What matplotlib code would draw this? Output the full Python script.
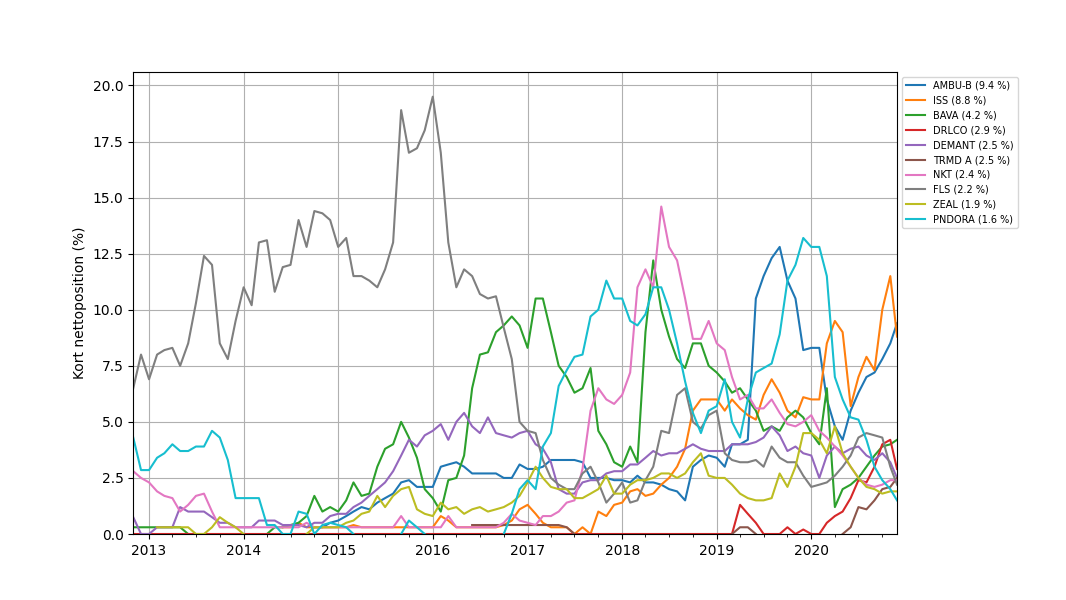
import numpy as np
import pandas as pd
import matplotlib
matplotlib.use("Agg")
import matplotlib.pyplot as plt
import matplotlib.dates as mdates

nan = float("nan")

# monthly readings, Nov 2012 .. Nov 2020, plus the last day
dates = pd.date_range("2012-11-01", periods=97, freq="MS").append(
    pd.DatetimeIndex(["2020-11-27"])
)

labels = ["AMBU-B (9.4 %)", "ISS (8.8 %)", "BAVA (4.2 %)", "DRLCO (2.9 %)",
          "DEMANT (2.5 %)", "TRMD A (2.5 %)", "NKT (2.4 %)", "FLS (2.2 %)",
          "ZEAL (1.9 %)", "PNDORA (1.6 %)"]

ambu_b = [nan, nan,
          nan, nan, nan, nan, nan, nan, nan, nan, nan, nan, nan, nan,
          nan, nan, nan, nan, nan, nan, nan, nan, nan, 0.3, 0.3, 0.5,
          0.6, 0.8, 1.0, 1.2, 1.1, 1.4, 1.6, 1.8, 2.3, 2.4, 2.1, 2.1,
          2.1, 3.0, 3.1, 3.2, 3.0, 2.7, 2.7, 2.7, 2.7, 2.5, 2.5, 3.1,
          2.9, 2.9, 3.0, 3.3, 3.3, 3.3, 3.3, 3.2, 2.5, 2.5, 2.5, 2.4,
          2.4, 2.3, 2.6, 2.3, 2.3, 2.2, 2.0, 1.9, 1.5, 3.0, 3.3, 3.5,
          3.4, 3.0, 4.0, 4.0, 4.2, 10.5, 11.5, 12.3, 12.8, 11.3, 10.5, 8.2,
          8.3, 8.3, 6.0, 4.8, 4.2, 5.5, 6.3, 7.0, 7.2, 7.8, 8.5,
          9.4]

iss = [nan, nan,
       nan, nan, nan, nan, nan, nan, nan, nan, nan, nan, nan, nan,
       nan, nan, nan, nan, nan, 0.3, 0.3, 0.5, 0.3, 0.3, 0.3, 0.3,
       0.3, 0.3, 0.4, 0.3, 0.3, 0.3, 0.3, 0.3, 0.3, 0.3, 0.3, 0.3,
       0.3, 0.8, 0.6, 0.3, 0.3, 0.3, 0.3, 0.3, 0.3, 0.4, 0.6, 1.1,
       1.3, 0.9, 0.5, 0.3, 0.3, 0.3, 0.0, 0.3, 0.0, 1.0, 0.8, 1.3,
       1.4, 1.9, 2.0, 1.7, 1.8, 2.2, 2.5, 3.0, 3.8, 5.5, 6.0, 6.0,
       6.0, 5.5, 6.0, 5.6, 5.3, 5.1, 6.2, 6.9, 6.3, 5.5, 5.2, 6.1,
       6.0, 6.0, 8.5, 9.5, 9.0, 5.7, 7.0, 7.9, 7.3, 10.0, 11.5,
       8.8]

bava = [0.3, 0.3,
        0.3, 0.3, 0.3, 0.3, 0.3, 0.0, nan, nan, nan, nan, nan, nan,
        nan, nan, nan, 0.0, 0.3, 0.3, 0.4, 0.5, 0.8, 1.7, 1.0, 1.2,
        1.0, 1.5, 2.3, 1.7, 1.8, 3.0, 3.8, 4.0, 5.0, 4.3, 3.4, 2.0,
        1.6, 1.0, 2.4, 2.5, 3.5, 6.5, 8.0, 8.1, 9.0, 9.3, 9.7, 9.3,
        8.3, 10.5, 10.5, 9.0, 7.5, 7.0, 6.3, 6.5, 7.4, 4.6, 4.0, 3.2,
        3.0, 3.9, 3.2, 9.0, 12.2, 10.0, 8.8, 7.8, 7.4, 8.5, 8.5, 7.5,
        7.2, 6.8, 6.3, 6.5, 6.0, 5.5, 4.6, 4.8, 4.6, 5.2, 5.5, 5.2,
        4.5, 4.0, 6.5, 1.2, 2.0, 2.2, 2.5, 3.0, 3.5, 3.9, 4.0,
        4.2]

drlco = [0.0, 0.0,
         0.0, 0.0, 0.0, 0.0, 0.0, 0.0, 0.0, 0.0, 0.0, 0.0, 0.0, 0.0,
         0.0, 0.0, 0.0, 0.0, 0.0, 0.0, 0.0, 0.0, 0.0, 0.0, 0.0, 0.0,
         0.0, 0.0, 0.0, 0.0, 0.0, 0.0, 0.0, 0.0, 0.0, 0.0, 0.0, 0.0,
         0.0, 0.0, 0.0, 0.0, 0.0, 0.0, 0.0, 0.0, 0.0, 0.0, 0.0, 0.0,
         0.0, 0.0, 0.0, 0.0, 0.0, 0.0, 0.0, 0.0, 0.0, 0.0, 0.0, 0.0,
         0.0, 0.0, 0.0, 0.0, 0.0, 0.0, 0.0, 0.0, 0.0, 0.0, 0.0, 0.0,
         0.0, 0.0, 0.0, 1.3, 0.9, 0.5, 0.0, 0.0, 0.0, 0.3, 0.0, 0.2,
         0.0, 0.0, 0.5, 0.8, 1.0, 1.6, 2.4, 2.3, 3.0, 4.0, 4.2,
         2.9]

demant = [0.75, 0.0,
          0.0, 0.3, 0.3, 0.3, 1.2, 1.0, 1.0, 1.0, 0.75, 0.5, 0.5, 0.3,
          0.3, 0.3, 0.6, 0.6, 0.6, 0.4, 0.4, 0.4, 0.3, 0.5, 0.5, 0.8,
          0.9, 0.9, 1.2, 1.4, 1.7, 2.0, 2.3, 2.8, 3.5, 4.2, 3.9, 4.4,
          4.6, 4.9, 4.2, 5.0, 5.4, 4.8, 4.5, 5.2, 4.5, 4.4, 4.3, 4.5,
          4.6, 4.0, 3.8, 3.2, 2.0, 1.8, 1.8, 2.3, 2.4, 2.4, 2.7, 2.8,
          2.8, 3.1, 3.1, 3.4, 3.7, 3.5, 3.6, 3.6, 3.8, 4.0, 3.8, 3.7,
          3.7, 3.7, 4.0, 4.0, 4.0, 4.1, 4.3, 4.8, 4.4, 3.7, 3.9, 3.6,
          3.5, 2.5, 3.5, 3.9, 3.6, 3.8, 3.9, 3.5, 3.3, 3.6, 3.2,
          2.5]

trmd_a = [nan, nan,
          nan, nan, nan, nan, nan, nan, nan, nan, nan, nan, nan, nan,
          nan, nan, nan, nan, nan, nan, nan, nan, nan, nan, nan, nan,
          nan, nan, nan, nan, nan, nan, nan, nan, nan, nan, nan, nan,
          nan, nan, nan, nan, nan, 0.4, 0.4, 0.4, 0.4, 0.4, 0.4, 0.4,
          0.4, 0.4, 0.4, 0.4, 0.4, 0.3, 0.0, nan, nan, nan, nan, nan,
          nan, nan, nan, nan, nan, nan, nan, nan, nan, nan, nan, nan,
          nan, nan, 0.0, 0.3, 0.3, 0.0, nan, nan, nan, nan, nan, nan,
          nan, nan, nan, nan, 0.0, 0.3, 1.2, 1.1, 1.5, 2.0, 2.1,
          2.5]

nkt = [2.8, 2.5,
       2.3, 1.9, 1.7, 1.6, 1.0, 1.3, 1.7, 1.8, 1.0, 0.3, 0.3, 0.3,
       0.3, 0.3, 0.3, 0.3, 0.3, 0.3, 0.3, 0.3, 0.5, 0.3, 0.3, 0.3,
       0.3, 0.3, 0.3, 0.3, 0.3, 0.3, 0.3, 0.3, 0.8, 0.3, 0.3, 0.3,
       0.3, 0.3, 0.8, 0.3, 0.3, 0.3, 0.3, 0.3, 0.3, 0.5, 0.9, 0.6,
       0.5, 0.4, 0.8, 0.8, 1.0, 1.4, 1.5, 2.9, 5.5, 6.5, 6.0, 5.8,
       6.2, 7.2, 11.0, 11.8, 11.0, 14.6, 12.8, 12.2, 10.5, 8.7, 8.7, 9.5,
       8.5, 8.2, 7.0, 6.0, 6.2, 5.6, 5.6, 6.0, 5.4, 4.9, 4.8, 5.0,
       5.3, 4.6, 4.3, 3.9, 3.5, 3.0, 2.5, 2.2, 2.1, 2.2, 2.4,
       2.4]

fls = [6.5, 8.0,
       6.9, 8.0, 8.2, 8.3, 7.5, 8.5, 10.3, 12.4, 12.0, 8.5, 7.8, 9.5,
       11.0, 10.2, 13.0, 13.1, 10.8, 11.9, 12.0, 14.0, 12.8, 14.4, 14.3, 14.0,
       12.8, 13.2, 11.5, 11.5, 11.3, 11.0, 11.8, 13.0, 18.9, 17.0, 17.2, 18.0,
       19.5, 17.0, 13.0, 11.0, 11.8, 11.5, 10.7, 10.5, 10.6, 9.2, 7.8, 5.0,
       4.6, 4.5, 3.3, 2.5, 2.2, 2.0, 2.0, 2.7, 3.0, 2.3, 1.4, 1.8,
       2.3, 1.4, 1.5, 2.4, 3.0, 4.6, 4.5, 6.2, 6.5, 5.0, 4.7, 5.3,
       5.5, 3.6, 3.3, 3.2, 3.2, 3.3, 3.0, 3.9, 3.4, 3.2, 3.2, 2.6,
       2.1, 2.2, 2.3, 2.6, 3.0, 3.5, 4.3, 4.5, 4.4, 4.3, 3.0,
       2.2]

zeal = [nan, nan,
        nan, 0.3, 0.3, 0.3, 0.3, 0.3, 0.0, 0.0, 0.3, 0.75, 0.5, 0.3,
        0.0, nan, nan, nan, nan, nan, nan, nan, 0.0, 0.3, 0.3, 0.3,
        0.3, 0.5, 0.6, 0.9, 1.0, 1.7, 1.2, 1.7, 2.0, 2.1, 1.1, 0.9,
        0.8, 1.4, 1.1, 1.2, 0.9, 1.1, 1.2, 1.0, 1.1, 1.2, 1.4, 1.7,
        2.3, 3.0, 2.5, 2.1, 2.0, 2.0, 1.6, 1.6, 1.8, 2.0, 2.6, 1.8,
        1.8, 2.2, 2.4, 2.4, 2.5, 2.7, 2.7, 2.5, 2.7, 3.2, 3.6, 2.6,
        2.5, 2.5, 2.2, 1.8, 1.6, 1.5, 1.5, 1.6, 2.7, 2.1, 3.0, 4.5,
        4.5, 4.2, 3.6, 4.8, 3.6, 3.0, 2.5, 2.1, 2.0, 1.8, 1.9,
        1.9]

pndora = [4.3, 2.85,
          2.85, 3.4, 3.6, 4.0, 3.7, 3.7, 3.9, 3.9, 4.6, 4.3, 3.3, 1.6,
          1.6, 1.6, 1.6, 0.4, 0.4, 0.0, 0.0, 1.0, 0.9, 0.0, 0.4, 0.5,
          0.4, 0.3, 0.0, nan, nan, nan, nan, nan, 0.0, 0.6, 0.3, 0.0,
          nan, nan, nan, nan, nan, nan, nan, nan, nan, 0.0, 0.9, 2.0,
          2.4, 2.0, 3.9, 4.5, 6.6, 7.3, 7.9, 8.0, 9.7, 10.0, 11.3, 10.5,
          10.5, 9.5, 9.3, 9.8, 11.0, 11.0, 10.0, 8.5, 6.8, 5.4, 4.5, 5.5,
          5.7, 6.9, 5.0, 4.3, 6.0, 7.2, 7.4, 7.6, 8.9, 11.3, 12.0, 13.2,
          12.8, 12.8, 11.5, 7.0, 6.0, 5.2, 5.1, 4.2, 3.0, 2.4, 2.0,
          1.5]

series = [ambu_b, iss, bava, drlco, demant, trmd_a, nkt, fls, zeal, pndora]
for s in series:
    assert len(s) == len(dates), len(s)

fig = plt.figure(figsize=(10.66, 6.0), dpi=100)
ax = fig.add_axes([0.125, 0.11, 0.7165, 0.77])

for s, lab in zip(series, labels):
    ax.plot(dates, s, label=lab)

ax.set_xlim(dates[0], dates[-1])
ax.set_ylim(0, 20.6)
ax.set_ylabel("Kort nettoposition (%)")
ax.xaxis.set_major_locator(mdates.YearLocator())
ax.xaxis.set_major_formatter(mdates.DateFormatter("%Y"))
ax.xaxis.set_minor_locator(mdates.MonthLocator(bymonth=[4, 7, 10]))
ax.grid(True)
ax.legend(loc="upper left", bbox_to_anchor=(1.0, 1.0), fontsize=7)

fig.savefig("out.png", dpi=100)
